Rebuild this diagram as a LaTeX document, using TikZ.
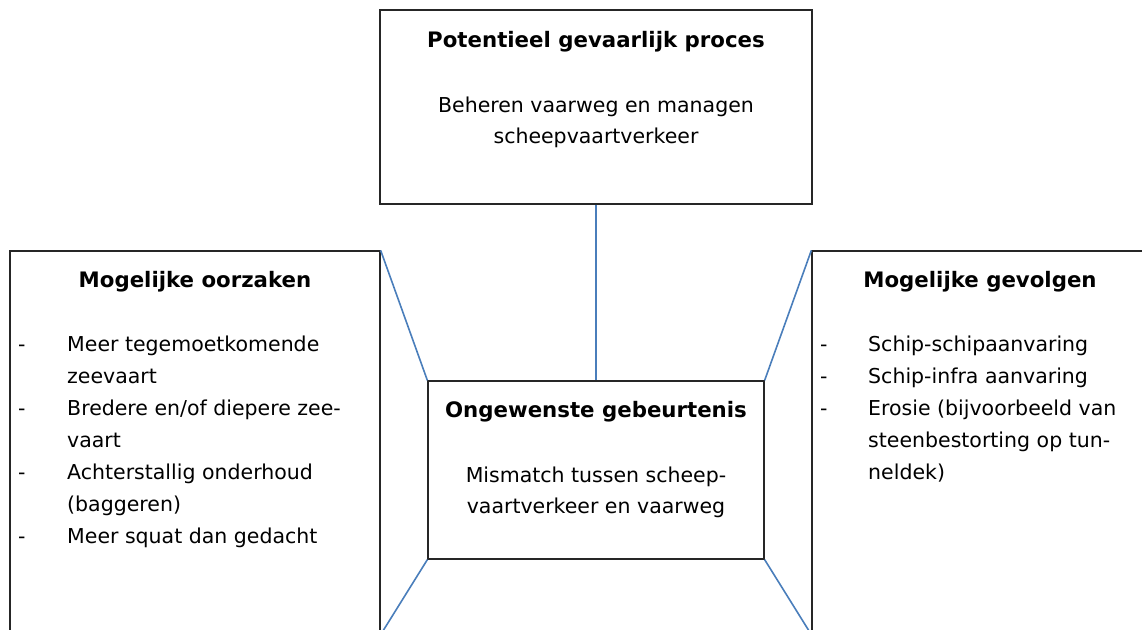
\documentclass[tikz,border=0pt]{standalone}
\usepackage{fontspec}
\setmainfont{DejaVu Sans}
\definecolor{lnk}{HTML}{4A7EBB}
\begin{document}
\begin{tikzpicture}[x=1pt,y=-1pt,
  box/.style={draw=black!85,line width=1.3pt,rectangle,inner sep=0pt},
  link/.style={draw=lnk,line width=1.6pt},
  ttl/.style={font=\fontsize{21.3}{24}\selectfont\bfseries,anchor=base,inner sep=0pt},
  txt/.style={font=\fontsize{20.5}{24}\selectfont,anchor=base,inner sep=0pt},
  itm/.style={font=\fontsize{20.5}{24}\selectfont,anchor=base west,inner sep=0pt}]
\useasboundingbox (0,0) rectangle (1142,629);
% boxes, drawn from their corners
\node[box,minimum width=432pt,minimum height=194pt] (top) at (596,107) {};
\node[box,minimum width=370pt,minimum height=383pt] (cause) at (195,442.5) {};
\node[box,minimum width=336pt,minimum height=383pt] (effect) at (980,442.5) {};
\node[box,minimum width=336pt,minimum height=178pt] (event) at (596,470) {};
% connectors
\draw[link] (top.south) -- (event.north);
\draw[link] (cause.north east) -- (event.north west);
\draw[link] (event.south west) -- (cause.south east);
\draw[link] (effect.north west) -- (event.north east);
\draw[link] (event.south east) -- (effect.south west);
% process
\node[ttl] (t1) at (596,47) {Potentieel gevaarlijk proces};
\node[txt] (t2) at (596,112) {Beheren vaarweg en managen};
\node[txt] (t3) at (596,143) {scheepvaartverkeer};
% event
\node[ttl] (e1) at (596,417) {Ongewenste gebeurtenis};
\node[txt] (e2) at (596,482) {Mismatch tussen scheep-};
\node[txt] (e3) at (596,513) {vaartverkeer en vaarweg};
% causes
\node[ttl] (c0) at (195,287) {Mogelijke oorzaken};
\foreach \y in {351,415,479,543} \node[itm] at (18,\y) {-};
\node[itm] (c1) at (67,351) {Meer tegemoetkomende};
\node[itm] (c2) at (67,383) {zeevaart};
\node[itm] (c3) at (67,415) {Bredere en/of diepere zee-};
\node[itm] (c4) at (67,447) {vaart};
\node[itm] (c5) at (67,479) {Achterstallig onderhoud};
\node[itm] (c6) at (67,511) {(baggeren)};
\node[itm] (c7) at (67,543) {Meer squat dan gedacht};
% effects
\node[ttl] (f0) at (980,287) {Mogelijke gevolgen};
\foreach \y in {351,383,415} \node[itm] at (820,\y) {-};
\node[itm] (f1) at (868,351) {Schip-schipaanvaring};
\node[itm] (f2) at (868,383) {Schip-infra aanvaring};
\node[itm] (f3) at (868,415) {Erosie (bijvoorbeeld van};
\node[itm] (f4) at (868,447) {steenbestorting op tun-};
\node[itm] (f5) at (868,479) {neldek)};
\end{tikzpicture}
\end{document}
